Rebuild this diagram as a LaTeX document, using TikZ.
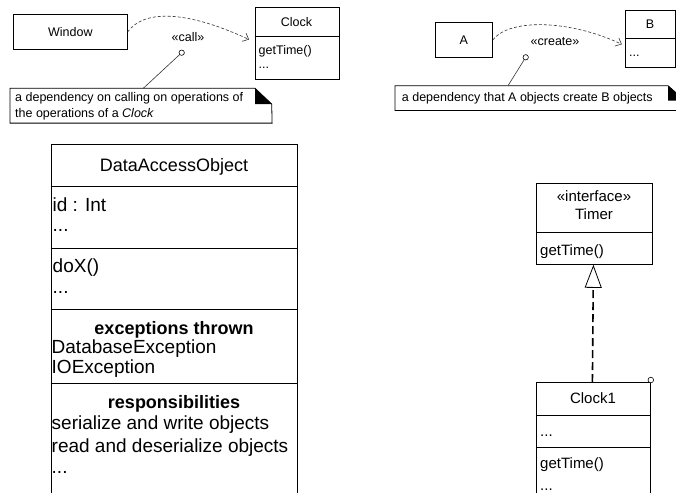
\documentclass[tikz,border=0pt]{standalone}
\usepackage{fontspec}
\setmainfont{Liberation Sans}
\usetikzlibrary{arrows.meta}
\begin{document}
\begin{tikzpicture}[x=1pt,y=-1pt,
  box/.style={draw, line width=0.8pt, inner sep=0pt, anchor=north west},
  tsm/.style={inner sep=0pt, font=\fontsize{12.5}{15}\selectfont},
  tmd/.style={inner sep=0pt, font=\fontsize{15}{18}\selectfont},
  tbg/.style={inner sep=0pt, font=\fontsize{18}{21}\selectfont},
  tbd/.style={inner sep=0pt, font=\fontsize{19}{22}\selectfont},
  sep/.style={line width=0.8pt},
  dep/.style={dash pattern=on 3pt off 2pt, line width=0.6pt, black!80,
    -{Straight Barb[length=5pt,width=9pt,line width=0.6pt]}},
  anchorline/.style={line width=0.6pt, black!80},
  pin/.style={draw, line width=0.6pt, fill=white},
]
\useasboundingbox (0,0) rectangle (676,492);
\clip (0,0) rectangle (676,492);

% ---------- top left: call dependency ----------
\node[box, minimum width=113.4pt, minimum height=35.3pt, tsm] (window) at (13.3,14) {Window};
\node[box, minimum width=84pt, minimum height=71.7pt] (clock) at (254.5,7.3) {};
\draw[sep] (clock.west |- 0,36) -- (clock.east |- 0,36);
\node[tsm, anchor=base] (clockname) at (296.5,26.7) {Clock};
\node[tsm, anchor=base west] (clockop) at (258.5,55) {getTime()};
\node[tsm, anchor=base west] (clockdots) at (258.5,68.3) {...};
\draw[dep, shorten >=6pt] (window.east) .. controls (145,8) and (190,12) .. ([yshift=1.5pt]clock.west);
\node[tsm, anchor=base] (calllbl) at (188,41.7) {«call»};

\node[minimum width=261.7pt, minimum height=34.4pt, inner sep=0pt, anchor=north west] (note1) at (10,88.3) {};
\draw[line width=0.8pt] (note1.north west) -- ++(245,0) -- ++(16.7,15.7) -- (note1.south east) -- (note1.south west) -- cycle;
\fill ([xshift=245pt]note1.north west) -- ++(0,15.7) -- ++(16.7,0) -- cycle;
\node[tsm, anchor=base west] (note1a) at (15,101.7) {a dependency on calling on operations of};
\node[tsm, anchor=base west] (note1b) at (15,117.7) {the operations of a \textit{Clock}};
\coordinate (callpin) at (181.7,52.7);
\draw[anchorline, shorten <=2.5pt] (callpin) -- ([xshift=133.3pt]note1.north west);
\draw[pin] (callpin) circle (2.7pt);

% ---------- top right: create dependency ----------
\node[box, minimum width=57pt, minimum height=35pt, tsm] (a) at (435,22) {A};
\node[box, minimum width=50pt, minimum height=56.7pt] (b) at (625,10) {};
\draw[sep] (b.west |- 0,38.3) -- (b.east |- 0,38.3);
\node[tsm, anchor=base] (bname) at (650,28.3) {B};
\node[tsm, anchor=base west] (bdots) at (629,56.7) {...};
\draw[dep, shorten >=3.5pt] (a.east) .. controls (510,18) and (570,20) .. ([yshift=-7pt]b.west);
\node[tsm, anchor=base] (createlbl) at (555,45.7) {«create»};

\node[minimum width=290pt, minimum height=24.3pt, inner sep=0pt, anchor=north west] (note2) at (395,85.7) {};
\draw[line width=0.8pt] (note2.north west) -- ++(273,0) -- ++(17,15) -- (note2.south east) -- (note2.south west) -- cycle;
\fill ([xshift=273pt]note2.north west) -- ++(0,15) -- ++(17,0) -- cycle;
\node[tsm, anchor=base west] (note2a) at (401.7,101.7) {a dependency that A objects create B objects};
\coordinate (createpin) at (525.7,57.3);
\draw[anchorline, shorten <=2.5pt] (createpin) -- ([xshift=113pt]note2.north west);
\draw[pin] (createpin) circle (2.7pt);

% ---------- DataAccessObject ----------
\node[box, minimum width=246.3pt, minimum height=370pt] (dao) at (50.7,144) {};
\draw[sep] (dao.west |- 0,186) -- (dao.east |- 0,186);
\draw[sep] (dao.west |- 0,248) -- (dao.east |- 0,248);
\draw[sep] (dao.west |- 0,309) -- (dao.east |- 0,309);
\draw[sep] (dao.west |- 0,383) -- (dao.east |- 0,383);
\node[tbg, anchor=base] (daoname) at (174,171.7) {DataAccessObject};
\node[tbd, anchor=base west] (daoattr) at (52.5,211.7) {id : Int};
\node[tbd, anchor=base west] (daoattrd) at (52.5,231.7) {...};
\node[tbd, anchor=base west] (daoop) at (52.5,272.7) {doX()};
\node[tbd, anchor=base west] (daoopd) at (52.5,293) {...};
\node[tbg, anchor=base, font=\fontsize{18}{21}\selectfont\bfseries] (daoexc) at (174,334) {exceptions thrown};
\node[tbd, anchor=base west] (daoexc1) at (51.5,353) {DatabaseException};
\node[tbd, anchor=base west] (daoexc2) at (51.5,373) {IOException};
\node[tbg, anchor=base, font=\fontsize{18}{21}\selectfont\bfseries] (daoresp) at (174,408) {responsibilities};
\node[tbd, anchor=base west] (daoresp1) at (51.5,429) {serialize and write objects};
\node[tbd, anchor=base west] (daoresp2) at (51.5,452) {read and deserialize objects};
\node[tbd, anchor=base west] (daorespd) at (51.5,473) {...};

% ---------- Timer / Clock1 ----------
\node[box, minimum width=116pt, minimum height=81pt] (timer) at (536,183) {};
\draw[sep] (timer.west |- 0,232) -- (timer.east |- 0,232);
\node[tmd, anchor=base] (timerst) at (594,201.7) {«interface»};
\node[tmd, anchor=base] (timername) at (594,219.3) {Timer};
\node[tmd, anchor=base west] (timerop) at (540,255) {getTime()};

\node[box, minimum width=114pt, minimum height=130pt] (clock1) at (536,382) {};
\draw[sep] (clock1.west |- 0,415) -- (clock1.east |- 0,415);
\draw[sep] (clock1.west |- 0,447) -- (clock1.east |- 0,447);
\node[tmd, anchor=base] (clock1name) at (593,403.3) {Clock1};
\node[tmd, anchor=base west] (clock1attr) at (540,436.7) {...};
\node[tmd, anchor=base west] (clock1op) at (540,468.3) {getTime()};
\node[tmd, anchor=base west] (clock1opd) at (540,490) {...};
\draw[dash pattern=on 8pt off 4pt, line width=1.6pt,
  -{Triangle[open, length=23pt, width=17pt, line width=0.8pt]}]
  ([xshift=-1pt]clock1.north) -- ([xshift=-1pt]timer.south);
\draw[pin] ([yshift=2pt]clock1.north east) circle (2.8pt);
\end{tikzpicture}
\end{document}
